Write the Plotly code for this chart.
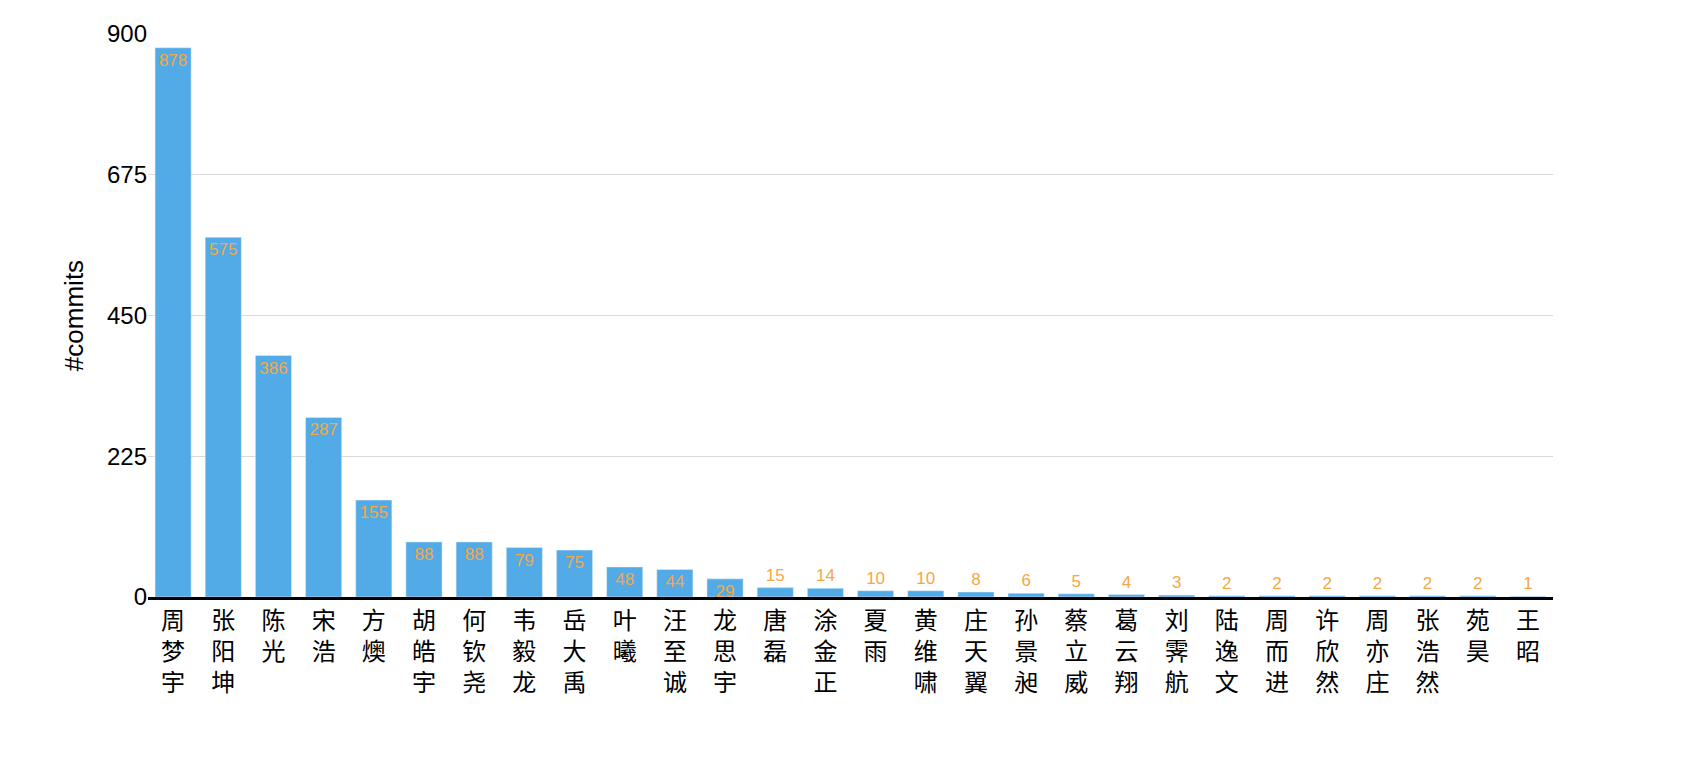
import plotly.graph_objects as go

names = ["周梦宇", "张阳坤", "陈光", "宋浩", "方燠", "胡皓宇", "何钦尧", "韦毅龙",
         "岳大禹", "叶曦", "汪至诚", "龙思宇", "唐磊", "涂金正", "夏雨", "黄维啸",
         "庄天翼", "孙景昶", "蔡立威", "葛云翔", "刘霁航", "陆逸文", "周而进", "许欣然",
         "周亦庄", "张浩然", "苑昊", "王昭"]
commits = [878, 575, 386, 287, 155, 88, 88, 79, 75, 48, 44, 29, 15, 14, 10, 10,
           8, 6, 5, 4, 3, 2, 2, 2, 2, 2, 2, 1]

# stack the characters so each label reads top to bottom
vertical = ["<br>".join(n) for n in names]
positions = ["inside" if v > 20 else "outside" for v in commits]

fig = go.Figure()
fig.add_trace(go.Bar(
    x=names,
    y=commits,
    text=commits,
    textposition=positions,
    insidetextanchor="end",
    textangle=0,
    constraintext="none",
    cliponaxis=False,
    textfont=dict(color="#f5a742", size=17, family="Liberation Sans"),
    marker_color="#52abe6",
    width=0.72,
))
fig.update_layout(
    width=1692, height=764,
    paper_bgcolor="white", plot_bgcolor="white",
    margin=dict(l=140, r=147, t=22, b=175),
    font=dict(family="Noto Sans CJK SC, Liberation Sans", color="black"),
    showlegend=False,
    bargap=0.28,
)
fig.update_xaxes(
    tickmode="array", tickvals=names, ticktext=vertical,
    tickangle=0, tickfont=dict(size=24),
    showline=True, linecolor="black", linewidth=3,
    ticks="", showgrid=False,
)
fig.update_yaxes(
    title=dict(text="#commits", font=dict(size=26, family="Liberation Sans")),
    range=[0, 900], tickvals=[0, 225, 450, 675, 900],
    tickfont=dict(size=24, family="Liberation Sans"), showgrid=True, gridcolor="#d9d9d9",
    zeroline=False, showline=False, ticks="",
)
fig.write_html("out.html")
